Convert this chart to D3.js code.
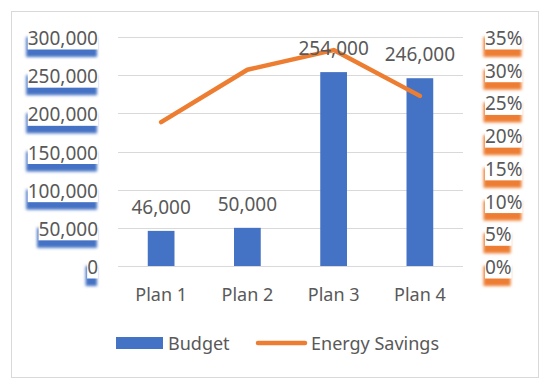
<!DOCTYPE html>
<html>
<head>
<meta charset="utf-8">
<script src="https://cdn.jsdelivr.net/npm/d3@7"></script>
<style>
    body { margin: 0; background: #fff; }
    text { font-family: "Noto Sans", "Open Sans", sans-serif; fill: #595959; }
</style>
</head>
<body>
<div id="chart"></div>
<script>
// chart data
let categories = ["Plan 1", "Plan 2", "Plan 3", "Plan 4"];
let budget = [46000, 50000, 254000, 246000];
let savings = [0.22, 0.30, 0.33, 0.26];
let budgetTicks = [0, 50000, 100000, 150000, 200000, 250000, 300000];
let savingsTicks = [0, 0.05, 0.10, 0.15, 0.20, 0.25, 0.30, 0.35];

let blue = "#4472C4", orange = "#ED7D31";

let width = 550, height = 390;
let margin = { top: 37, right: 87, bottom: 124, left: 118 };
let innerW = width - margin.left - margin.right;
let innerH = height - margin.top - margin.bottom;

let svg = d3.select("#chart").append("svg")
    .attr("width", width)
    .attr("height", height);

// blur filter for the label shadows
let defs = svg.append("defs");
defs.append("filter").attr("id", "soft")
    .attr("x", "-30%").attr("y", "-60%").attr("width", "160%").attr("height", "220%")
    .append("feGaussianBlur").attr("stdDeviation", 1.8);

// outer border
svg.append("rect")
    .attr("x", 11.5).attr("y", 11.5)
    .attr("width", 527).attr("height", 366)
    .attr("fill", "#fff")
    .attr("stroke", "#d9d9d9");

let g = svg.append("g")
    .attr("transform", "translate(" + margin.left + "," + margin.top + ")");

// Scales
let x = d3.scaleBand()
    .domain(categories)
    .range([0, innerW])
    .paddingInner(0.69)
    .paddingOuter(0.345);

let y = d3.scaleLinear().domain([0, 300000]).range([innerH, 0]);
let y2 = d3.scaleLinear().domain([0, 0.35]).range([innerH, 0]);

// gridlines
g.selectAll(".grid")
    .data(budgetTicks)
    .enter().append("line")
    .attr("x1", 0).attr("x2", innerW)
    .attr("y1", d => Math.round(y(d)) + 0.5)
    .attr("y2", d => Math.round(y(d)) + 0.5)
    .attr("stroke", "#d9d9d9");

// tick labels with white box + coloured blurred shadow
function shadowLabels(ticks, scale, fmt, xPos, anchor, color) {
    let grp = g.append("g");
    ticks.forEach(function (t) {
        let lg = grp.append("g");
        let base = scale(t) + 8;
        let txt = lg.append("text")
            .attr("x", xPos)
            .attr("y", base)
            .attr("text-anchor", anchor)
            .style("font-size", "19px")
            .text(fmt(t));
        let bb = txt.node().getBBox();
        lg.insert("rect", "text")
            .attr("x", bb.x).attr("y", base - 15.5)
            .attr("width", bb.width).attr("height", 20)
            .attr("fill", "#fff");
        lg.insert("rect", "rect")
            .attr("x", bb.x - 1.5).attr("y", base - 15.5 + 7.5)
            .attr("width", bb.width + 0.5).attr("height", 20)
            .attr("fill", color)
            .attr("filter", "url(#soft)");
    });
}

shadowLabels(budgetTicks, y, d3.format(","), -20, "end", blue);
shadowLabels(savingsTicks, y2, d3.format(".0%"), innerW + 22, "start", orange);

// bars
g.selectAll(".bar")
    .data(budget)
    .enter().append("rect")
    .attr("x", (d, i) => x(categories[i]))
    .attr("y", d => y(d))
    .attr("width", x.bandwidth())
    .attr("height", d => innerH - y(d))
    .attr("fill", blue);

// line
let line = d3.line()
    .x((d, i) => x(categories[i]) + x.bandwidth() / 2)
    .y(d => y2(d));

g.append("path")
    .datum(savings)
    .attr("d", line)
    .attr("fill", "none")
    .attr("stroke", orange)
    .attr("stroke-width", 4.5)
    .attr("stroke-linecap", "round")
    .attr("stroke-linejoin", "round");

// bar value labels
g.selectAll(".val")
    .data(budget)
    .enter().append("text")
    .attr("x", (d, i) => x(categories[i]) + x.bandwidth() / 2)
    .attr("y", d => y(d) - 17)
    .attr("text-anchor", "middle")
    .style("font-size", "19px")
    .text(d => d3.format(",")(d));

// category labels
g.selectAll(".cat")
    .data(categories)
    .enter().append("text")
    .attr("x", d => x(d) + x.bandwidth() / 2)
    .attr("y", innerH + 34.5)
    .attr("text-anchor", "middle")
    .style("font-size", "18px")
    .text(d => d);

// legend
let legend = svg.append("g");
legend.append("rect")
    .attr("x", 116).attr("y", 337)
    .attr("width", 47).attr("height", 12)
    .attr("fill", blue);
legend.append("text")
    .attr("x", 168).attr("y", 349.5)
    .style("font-size", "18px")
    .text("Budget");
legend.append("line")
    .attr("x1", 258).attr("x2", 305)
    .attr("y1", 343).attr("y2", 343)
    .attr("stroke", orange)
    .attr("stroke-width", 4.5)
    .attr("stroke-linecap", "round");
legend.append("text")
    .attr("x", 311).attr("y", 349.5)
    .style("font-size", "18px")
    .text("Energy Savings");
</script>
</body>
</html>
